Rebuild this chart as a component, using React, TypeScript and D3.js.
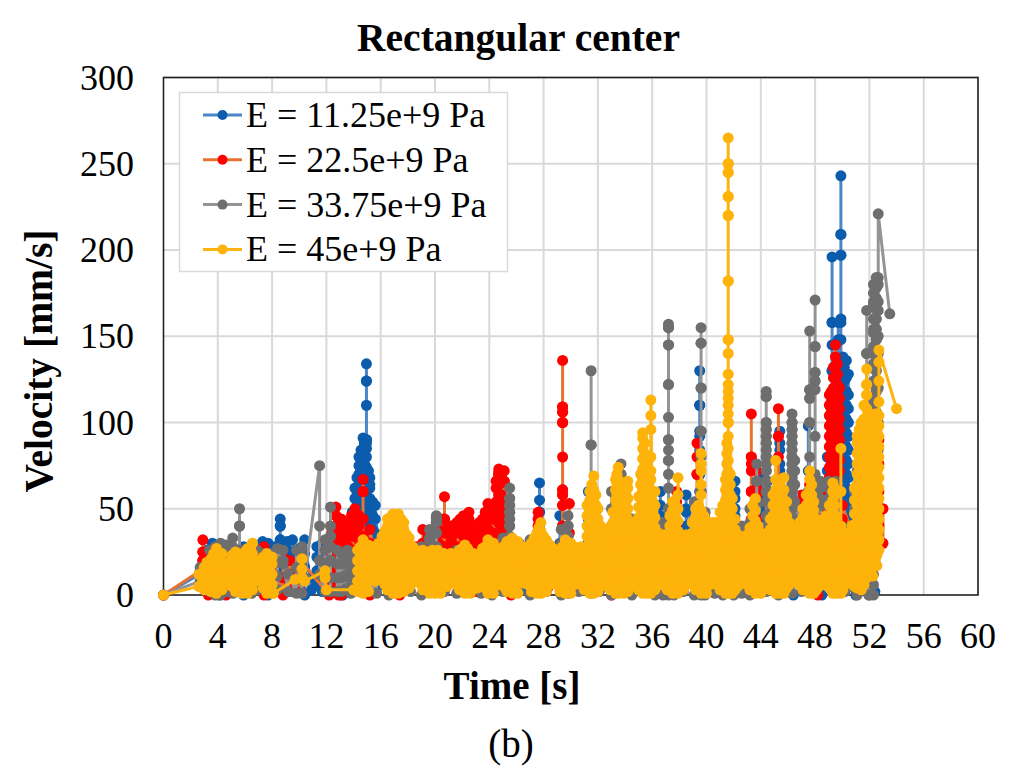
import React from "react";
import * as d3 from "d3";

type Col = [number, number[]];

const xTicks = [0,4,8,12,16,20,24,28,32,36,40,44,48,52,56,60];
const yTicks = [0,50,100,150,200,250,300];

const blueColumns: Col[] = [
[0,[0]],[2.7,[12]],[3.2,[4,12,20,26]],[3.6,[6,14,22,30]],[4.1,[0,8,16,24,29]],[4.6,[5,13,21,26]],[5.2,[2,10,18,24]],[5.9,[0,8,16,24,28]],[6.5,[3,11,19,26]],
[7.3,[2,10,18,26,31]],[7.7,[0,8,16,24,30]],[8.2,[6,14,22,28]],[8.6,[14,26,32,40,44,40,32,26,20,14]],[9.1,[4,12,20,26,31]],[9.5,[2,10,18,25,32]],[10,[4,12,20,27]],[10.4,[0,8,16,24,32]],[10.9,[3,10]],[11.3,[6,14,22,28]],
[11.7,[2,10,18,26,30]],[12.2,[4,12,20,27,33]],[12.6,[6,14,22,30]],[13.2,[0,8,14,22,30]],[13.5,[6,14,22,30,36]],[13.7,[4,12,20,28,36,42]],[13.9,[10,18,26,34,42,48]],[14.1,[8,16,24,32,40,48,56,62]],[14.25,[12,22,32,42,52,60,68]],[14.4,[10,20,30,40,50,58,64,70,75,80]],[14.55,[14,24,34,44,54,62,68,74,80,84]],
[14.7,[10,20,30,40,50,60,66,72,78,84,91]],[14.8,[16,26,36,46,56,64,70,76,82,88]],[14.95,[44,70,90,110,124,134,124,90,88,85,80,74,68,60,52,44]],[15.1,[14,24,34,44,54,64,72]],[15.2,[8,18,28,38,48,56,62,68,64]],[15.4,[14,26,38,46,54]],[15.6,[12,24,36,44,52]],[16,[6,14,24,30]],
[26.9,[2,8,16]],[27.7,[30,40,48,55,65,48,38,28]],[28.2,[16,22]],[29.2,[18,28,46,30]],[31.3,[18,30,40,60,44,30,4]],[33,[10,20,32]],[35.8,[12,24,40,58]],[36.6,[20,46,52,60,44]],
[38,[4,14,30,38]],[38.5,[20,30,40,50,58,48]],[39.5,[2,30,60,70,80,95,110,130,110,92,84,70]],[40,[10,20]],[41.7,[30,48,44]],[42.1,[60,66,56,50,46,40,30]],[42.4,[36,30]],[43,[34,38,30,14]],
[44.1,[44,58,70,50]],[44.5,[34,50,60,66,58]],[45.4,[20,40,60,72,84,95,88,76,50]],[45.8,[2,20,34]],[46.4,[0,14]],[47,[26,40]],[47.5,[30,50,72,98,60,32]],[48.5,[0,20,40]],[48.9,[30,50,66,72,80]],
[49.25,[60,90,110,130,158,196,158,145,130,112,100,86,70,58,46,32]],[49.7,[40,80,120,158,148,136,122,110]],[49.9,[96,120,160,197,209,243,209,197,158,148,136,122,110,96,84,70,56,40,25]],[50.05,[20,28,36,44,52,60,68,76,84,92,100,108,116,124,132,138]],[50.15,[132,124,116,108,100,92,84,76,68,60,52,44]],[50.3,[30,38,46,54,62,70,78,86,94,102,110,118,126,136]],[50.45,[128,116,108,100,92,84,76,68,60,52,44,36]],
[51,[0,12,24]],[52.4,[2,20]]
];

const redColumns: Col[] = [
[0,[0]],[2.7,[14]],[2.9,[6,14,20,25,32,25,20,14,6]],[3.3,[0,8,16]],[4.6,[0,10,22,27]],[5.2,[2,12,24]],[6.4,[2,12,22,27]],[7.4,[0,10,18,28]],[8.1,[2,12,20]],[8.8,[0,10,18,22]],[9.3,[4,12,20]],[10.1,[2,10,20]],
[12.2,[0,6]],[12.4,[14,22,30,36]],[12.7,[8,18,26,34,40,46,51,46,40,34,26,18,8]],[12.9,[0,6,14,22,30,36,44]],[13.1,[0,10,22,32,40,44]],[13.35,[6,16,26,34,40,42]],[13.6,[4,14,26,34,40,36,28]],[13.85,[14,24,34,42,46]],[14.1,[10,22,34,42,50,38,26]],[14.4,[12,22,32,40,46]],[14.7,[12,24,34,44,60,67,60,44,34,24,12]],[15.2,[0,14,30,38]],[15.8,[14,22,30]],[16.6,[2,12,22]],[17.4,[0,10,22]],
[18,[4,14]],[18.6,[12,22,28]],[19.1,[16,24,30,38,30,24,16]],[19.5,[14,22,30,34]],[19.7,[20,30,36]],[19.9,[16,26,34,38]],[20.1,[14,24,34,42,45]],[20.25,[20,30,38,44]],[20.4,[26,36,44]],[20.7,[28,36,44,57,44,36,28]],[20.95,[18,28,38,40]],[21.2,[10,22,32,40,38]],[21.4,[16,26,36,40]],[21.6,[16,28,38,42,36]],[21.85,[18,28,38,44]],[22.1,[12,24,34,42,46,40]],[22.3,[18,28,38,46]],[22.5,[22,32,40,48,44,36]],[22.75,[14,24,34,40]],[23,[2,16,28,36,30]],[23.25,[18,28,36,42]],[23.5,[14,24,34,40,44,38]],
[23.7,[20,30,40,48]],[23.9,[16,28,38,46,53,46,38]],[24.1,[22,34,44,50]],[24.3,[20,32,44,52,46,36]],[24.5,[26,36,46,54,62,66]],[24.7,[24,34,42,50,58,64,69,71,73,71,69,64,58,50,42,34,24]],[24.9,[28,38,48,58,66,70]],[25.1,[14,26,36,44,54,66,72,66,54,44,36,26,14]],[25.6,[0,14,30]],[26.2,[12,24]],[27.2,[20,30]],[27.6,[20,30,40,44,48,44,40,30,20]],[28.3,[4,14,24,27]],[28.8,[14,24,27]],
[29.4,[26,40,52,58,61,80,100,106,109,136,109,106,100,61,58,52,40,26]],[29.9,[30,53,36,20]],[30.8,[6,16]],[31.2,[4,14]],[33,[0,8,20]],[36,[14,30]],[37.2,[10,30]],[37.8,[20,40,54,60,42]],[39.3,[20,44,70,80,88,70,50,40]],[39.9,[30,44,24]],[40.6,[20,36]],
[43.3,[40,60,72,80,105,80,76,60,44,32]],[43.7,[40,58,72,62,44,26]],[44.6,[24,40,52]],[45.3,[60,80,92,108,92,66,50,32]],[45.7,[30,48]],[47,[30,44,52,58,48,34]],[47.6,[10,30,50,64,44]],[48.2,[0,14,30,40,52]],[48.6,[46,58,62,40]],
[49.05,[40,56,62,68,74,80,86,92,98,104,110,116]],[49.2,[118,112,106,100,94,88,82,76,70,64,58,52]],[49.35,[60,66,72,78,84,90,96,102,108,114,120,126,132]],[49.5,[145,138,132,126,120,114,108,102,96,90,84,78,72,66]],[49.65,[62,68,74,80,86,92,98,104,110,116,122,128,134]],[49.8,[120,114,108,102,96,90,84,78,72]],[50,[30,44,52]],[51.5,[20,34]],[52.7,[40,60,76,90]],[53,[30,50]]
];

const grayColumns: Col[] = [
[0,[0]],[2.7,[8,16]],[3.4,[2,10,18,26]],[3.8,[0,8,16,24,28]],[4.2,[0,8,16,24,30]],[4.6,[2,10,18,24,29]],[5.1,[1,9,17,25,33,28]],[5.6,[18,26,40,50,40,26,18,10,2]],[6,[2,10,18,26]],[6.5,[1,9,17,24]],[6.9,[3,11,19,26]],
[7.3,[9,17,24]],[7.9,[1,9,17,24]],[8.4,[3,11,19,27]],[8.8,[20,26,18]],[9.2,[2,12]],[9.8,[1,9,16,26]],[10.2,[1,9,17,24,28]],[10.4,[10]],[11.5,[75,40,20,12]],[11.9,[2,10,18,26,32]],[12.3,[20,34,51,40,34,28,20,10,2]],[12.8,[2,10,18,26]],[13.1,[2,10,18,24]],[13.3,[3,11,18,24]],[13.55,[4,12,20,26]],[13.8,[1,9,17,22]],
[14.4,[2,14,22]],[15.7,[1,10]],[16.6,[0,8]],[17.6,[2,12,24,30,35,27]],[18.2,[2,14,24]],[19,[0,10,20,28]],[19.6,[20,32,38,33,26]],[20.1,[16,28,36,42,44,46,44,42,36,28,16]],[20.7,[2,12,24]],[21.6,[1,14,26]],[22.6,[2,12,24]],[23.4,[1,12,24]],[24.2,[0,10,22]],
[25,[2,12,24,33]],[25.5,[24,34,40,44,48,52,56,62,56,52,48,44,40,34,24,12,2]],[26.2,[2,14,24,30]],[27,[0,10,24,32]],[28.2,[2,14,26,31]],[29.3,[0,10,22,30,38]],[29.8,[14,26,34,40,46,40,34,26,14,1]],[30.6,[2,14,20]],[31.5,[14,28,60,87,130,87,60,50,40,28,14,1]],[32.1,[2,18,30]],
[33,[0,14,28,40,50,60]],[33.7,[24,40,52,64,70,76,70,64,52,40,24,8]],[34.5,[0,16,30,44]],[35.3,[2,20,40,52]],[36.2,[0,14,28,36]],[36.8,[0,14,28,36,42]],[37.2,[28,50,78,90,122,145,155,157,155,145,122,103,90,84,78,70,62,50,40,28,12,0]],[37.6,[0,16,32,44]],[38.3,[2,18,30]],[39.1,[0,16,30,44,54]],
[39.6,[30,60,95,120,146,155,146,120,95,80,60,44,30,14,0]],[39.9,[0,14,30,48]],[40.6,[1,14,28]],[41.2,[0,14,30]],[42,[0,14,30]],[42.6,[1,16,30,40]],[43.2,[0,14,28,42,50]],[43.7,[40,52,66,76,66,52,40,24]],[44.4,[18,30,40,46,54,60,66,72,76,80,84,88,92,96,100,115,118,115,100,96,92,88,84,80,76,72,66,60,54,46,40,30,18,2]],[44.7,[20,36,48,60]],[45.3,[0,14,28,40]],
[46.3,[16,28,36,44,50,56,60,64,68,72,76,80,84,88,92,96,100,105,100,96,92,88,84,80,76,72,68,64,60,56,50,44,36,28,16,1]],[46.5,[30,44,54,64,72,78]],[47,[2,16,30]],[47.6,[12,28,40,50,60,80,100,114,119,153,119,114,100,60,50,40,28,12]],[48,[40,56,70,92,124,129,144,171,144,129,124,119,60,50,40,30,14,2]],[48.4,[30,40,52,62,66,56,44]],[49,[30,40,52,62,66,56,44]],[49.5,[40,52,60,66]],[50.2,[2,14,28]],[50.9,[4,20,36,50,60]],[51.1,[0,10,24,40,56,64,72]],
[51.8,[24,52,70,100,140,165,140,100,80,70,60,52,44,36,24,8]],[51.95,[0,14,30,50,70,90]],[52,[0,14,30,50,70,90,108]],[52.3,[0,6,12,22,34,52,70,86,100,112,124,134,144,152,160,168,175,180,170,154,140,122,104,86,70,52,34,22]],[52.5,[100,106,112,118,124,130,136,142,148,154,160,166,172,178,184,178,172,166,160,154,148,142,136,130,124,118,112,106,100]],[52.65,[84,100,120,140,150,165,170,180,184,221]],[53.5,[163]]
];

const yellowColumns: Col[] = [
[0,[0]],[2.6,[5,12]],[3,[3,10,16]],[3.5,[2,9,15,21]],[3.9,[1,8,14,20,27]],[4.3,[3,10,18,24]],[4.8,[8,14,19]],[5.3,[2,9,15,21,25]],[5.8,[1,7,13,20,23]],[6.2,[1,8,15,22,27]],[6.55,[3,10,17,24,30]],[7.1,[10,16]],[7.6,[1,7,13,19,24]],[8,[1,6,12,18,22]],[8.1,[1]],[9.7,[9]],[10.2,[10,15,21]],[10.4,[8]],[11.9,[14,10]],[12,[3]],[14,[3]],
[14.3,[2,8,14,20,26]],[14.7,[1,7,13,19,25,32]],[15.1,[2,8,14,20,26,29]],[15.6,[8,14,20,26]],[16.1,[9,15,21,27,34]],[16.5,[3,9,15,21,27,33,40,44]],[16.9,[1,7,13,19,25,31,37,43,47]],[17.3,[1,7,13,19,25,31,37,43,47]],[17.7,[2,8,14,20,26,32,38,42]],[18.1,[4,10,16,22,28,33]],[18.6,[10,16,22,26]],
[19.1,[3,9,15,21,26]],[19.6,[1,7,13,19,25]],[20,[1,7,13,19,25]],[20.4,[1,7,13,19,24]],[20.9,[5,11,17,22]],[21.4,[10,16,22]],[21.8,[3,9,15,21,26]],[22.2,[1,7,13,19,25,29]],[22.6,[1,7,13,19,24]],[23.1,[4,10,16,22]],[23.5,[9,15,21,27]],[23.9,[1,7,13,19,25,32]],[24.3,[1,7,13,19,25,30]],[24.8,[8,14,20,25]],
[25.3,[2,8,14,20,26,31]],[25.7,[1,7,13,19,25,33]],[26.1,[1,7,13,19,25,31]],[26.6,[9,15,21,26]],[27.1,[2,8,14,20,26,30]],[27.5,[1,7,13,19,25,31,36]],[27.8,[1,7,13,19,25,31,37,42]],[28.2,[2,8,14,20,27,32]],[28.7,[9,15,21,27]],[29.2,[2,8,14,20,26]],[29.6,[1,7,13,19,25,32]],[30,[1,7,13,19,25,30]],[30.5,[8,14,20,26]],
[31,[3,9,15,21,25]],[31.4,[1,7,13,19,25,31,37,43,49,55,60]],[31.7,[1,7,13,19,25,31,37,43,49,55,61,69]],[32,[2,8,14,20,26,32,38,44,50]],[32.4,[8,14,20,26,32]],[32.9,[3,9,15,21,27,33,39]],[33.3,[1,7,13,19,25,31,37,43,49,55,61,67]],[33.5,[1,7,13,19,25,31,37,43,49,55,61,67,74]],[33.9,[1,7,13,19,25,31,37,43,49,55,60]],[34.2,[2,8,14,20,26,32,38,44,50,56,66,62]],[34.6,[8,14,20,26,32]],
[35,[3,9,15,21,27,33,39,45,51,57]],[35.3,[1,7,13,19,25,31,37,43,49,55,61,67,73,79,85,91,94]],[35.6,[1,7,13,19,25,31,37,43,49,55,61,67,73,76]],[35.9,[1,7,13,19,25,31,37,43,49,55,61,67,72,80,96,104,113]],[36.2,[3,9,15,21,27,33,39,45,52,60]],[36.7,[9,15,21,27,33]],[37.1,[3,9,15,21,27,33]],
[37.5,[1,7,13,19,25,31,37,43,49,54]],[37.9,[1,7,13,19,25,31,37,43,50,58,68]],[38.3,[3,9,15,21,27,33]],[38.7,[9,15,21,27,33]],[39.2,[3,9,15,21,27,33,39,45,50]],[39.6,[1,7,13,19,25,31,37,43,49,58,64,72,76,82]],[40,[1,7,13,19,25,31,37,43]],[40.5,[9,15,21,27,33,39,42]],[41,[3,9,15,21,27,33,39,48]],
[41.4,[1,7,13,19,25,31,37,43,49,55,61,67]],[41.6,[60,100,148,182,220,231,245,250,265,250,245,231,220,182,148,140,128,122,118,114,110,105,100,92,85,78,72,66,60,54,48,42,36,30,24,18,12,6,1]],[41.9,[1,7,13,19,25,31,37,43,50,56]],[42.3,[5,11,17,23,29,35]],[42.8,[10,16,22,28,33]],[43.2,[3,9,15,21,27,33,39]],[43.6,[1,7,13,19,25,31,37,43,49,56]],[44,[1,7,13,19,25,31,36]],[44.4,[8,14,20,26,32]],
[44.7,[3,9,15,21,27,33,38,44]],[45.1,[1,7,13,19,25,31,37,43,49,55,61,67,78]],[45.4,[1,7,13,19,25,31,37,43,49,55,60]],[45.7,[1,7,13,19,25,31,37,43,49,55,61,68]],[46.1,[6,12,18,24,30,36,42]],[46.6,[10,16,22,28,34]],[47.1,[3,9,15,21,27,33,39,45,50]],[47.6,[1,7,13,19,25,31,37,43,49,55,61,67,72]],[47.9,[1,7,13,19,25,31,37,43,49,54]],
[48.3,[5,11,17,23,29,35,41]],[48.8,[8,14,20,26,32,38,46]],[49.3,[1,7,13,19,25,31,37,43,49,55,60,65]],[49.6,[1,7,13,19,25,31,37,42]],[49.9,[30,60,85,40,34,28,22,16,10,4,1]],[50.2,[6,12,18,24,30]],[50.7,[7,13,19,25,33,40]],[51.1,[4,10,16,22,28,34,40,46,52,58,64,70,76,82,88,92]],[51.4,[3,9,15,21,27,33,39,45,51,57,63,69,75,81,87,93,99,100]],
[51.8,[80,100,116,122,131,122,116,108,100,94,88,82,76,70,64,58,52,46,40,34,28,22,16,10]],[52.1,[14,20,26,32,38,44,50,56,62,68,74,80,86,92,98,104]],[52.4,[105,98,92,86,80,74,68,62,56,50,44,38,32,26,20]],[52.7,[26,32,38,44,50,56,62,68,74,80,86,92,98,104,112,124,135,142]],[54,[108]]
];

/* Second reading of the dense yellow band: the points lying between the columns above. */
const yellowInfill: Col[] = [
[3.2,[6,13,19]],[3.7,[5,12,18,24]],[4.1,[4,11,17,23]],[4.55,[6,12,18]],[5.05,[5,12,18,23]],[5.55,[4,10,17,22]],[6,[4,11,18,25]],[6.4,[6,13,20,27]],[6.8,[8,14,20]],[7.35,[4,10,16,22]],[7.8,[3,9,15,21]],
[14.5,[4,10,16,22,28]],[14.9,[4,10,16,22,28]],[15.35,[11,17,23,28]],[15.85,[12,18,24,30]],[16.3,[6,12,18,24,30,37]],[16.7,[4,10,16,22,28,34,40,45]],[17.1,[4,10,16,22,28,34,40,46]],[17.5,[4,10,16,22,28,34,40,44]],[17.9,[5,11,17,23,29,35]],[18.35,[7,13,19,25,28]],[18.85,[7,13,19,25]],
[19.35,[6,12,18,24]],[19.8,[4,10,16,22,26]],[20.2,[4,10,16,22,26]],[20.65,[8,14,20,24]],[21.15,[8,14,20,24]],[21.6,[6,12,18,24]],[22,[4,10,16,22,27]],[22.4,[4,10,16,22,27]],[22.85,[7,13,19,24]],[23.3,[7,12,18,24]],[23.7,[4,10,16,22,28]],[24.1,[4,10,16,22,28]],[24.55,[6,11,17,23,27]],
[25.05,[5,11,17,23,28]],[25.5,[4,10,16,22,28]],[25.9,[4,10,16,22,28]],[26.35,[7,12,18,24,28]],[26.85,[6,12,18,24,28]],[27.3,[4,10,16,22,28,33]],[27.65,[4,10,16,22,28,34,39]],[28,[4,10,16,22,28,34]],[28.45,[6,12,18,24,29]],[28.95,[6,12,18,24]],[29.4,[4,10,16,22,28]],[29.8,[4,10,16,22,28]],[30.25,[6,11,17,23,28]],
[30.75,[6,12,18,24,28]],[31.2,[4,10,16,22,28,34,40,46,52]],[31.55,[4,10,16,22,28,34,40,46,52,58,64]],[31.85,[4,10,16,22,28,34,40,46,52,58]],[32.2,[5,11,17,23,29,35,40]],[32.65,[6,12,18,24,30,35]],[33.1,[6,12,18,24,30,36,42,48]],[33.4,[4,10,16,22,28,34,40,46,52,58,64,70]],[33.7,[4,10,16,22,28,34,40,46,52,58,64]],[34.05,[5,11,17,23,29,35,41,47,53,59]],[34.4,[5,11,17,23,29,35,40]],
[34.8,[6,12,18,24,30,36,42]],[35.15,[4,10,16,22,28,34,40,46,52,58,64,70]],[35.45,[4,10,16,22,28,34,40,46,52,58,64,70,76,82,88]],[35.75,[4,10,16,22,28,34,40,46,52,58,64,70]],[36.05,[6,12,18,24,30,36,42,48,54]],[36.45,[6,12,18,24,30,36]],[36.9,[6,12,18,24,30,35]],
[37.3,[4,10,16,22,28,34,40,46]],[37.7,[4,10,16,22,28,34,40,46,52]],[38.1,[5,11,17,23,29,35]],[38.5,[6,12,18,24,30,35]],[38.95,[6,12,18,24,30,36,42]],[39.4,[4,10,16,22,28,34,40,46,52]],[39.8,[4,10,16,22,28,34,40,46]],[40.25,[6,12,18,24,30,36]],[40.75,[6,12,18,24,30,36,42]],
[41.2,[4,10,16,22,28,34,40,46,52]],[41.5,[4,10,16,22,28,34,40,46,52,58,64,70,76,82,88]],[41.75,[4,10,16,22,28,34,40,46,52,58,64,70]],[42.1,[3,8,14,20,26,32,38,44]],[42.55,[8,14,20,26,32]],[43,[6,12,18,24,30,35]],[43.4,[4,10,16,22,28,34,40,46,52]],[43.8,[4,10,16,22,28,34,40]],[44.2,[5,11,17,23,29,34]],
[44.55,[6,12,18,24,30,36]],[44.9,[4,10,16,22,28,34,40,46,52,58]],[45.25,[4,10,16,22,28,34,40,46,52,58,64]],[45.55,[4,10,16,22,28,34,40,46,52,58]],[45.9,[4,10,16,22,28,34,40,46,54]],[46.35,[8,14,20,26,32,38]],[46.85,[6,12,18,24,30,36,42]],[47.35,[4,10,16,22,28,34,40,46,52,58]],[47.75,[4,10,16,22,28,34,40,46,52,58,64]],
[48.1,[3,8,14,20,26,32,38,44]],[48.55,[7,13,19,25,31,37,42]],[49.05,[4,10,16,22,28,34,40,46,52]],[49.45,[4,10,16,22,28,34,40,46,52,58,62]],[49.75,[4,10,16,22,28,34,38]],[50.05,[3,9,15,21,27,33]],[50.45,[8,14,20,26,32,36]],[50.9,[5,11,17,23,29,35,41,47,55,62]],[51.25,[6,12,18,24,30,36,42,48,54,60,66,72,78,84,90,96]],
[51.6,[6,12,18,24,30,36,42,48,54,60,66,72,78,84,90,96,102,110]],[51.95,[11,17,23,29,35,41,47,53,59,65,71,77,83,89,95,100]],[52.25,[11,17,23,29,35,41,47,53,59,65,71,77,83,89,95,101]],[52.55,[17,23,29,35,41,47,53,59,65,71,77,83,89,95,101,105]]
];

const yellowAll: Col[] = d3.sort([...yellowColumns, ...yellowInfill], c => c[0]);

const seriesNames = ["E = 11.25e+9 Pa","E = 22.5e+9 Pa","E = 33.75e+9 Pa","E = 45e+9 Pa"];
const seriesColumns = [blueColumns, redColumns, grayColumns, yellowAll];
const lineColors = ["#4a86c8","#e8722f","#949494","#fdb40e"];
const dotColors = ["#0b5cad","#ff0000","#6e6e6e","#feb30a"];

const FONT = "'Liberation Serif', serif";

export default function App() {
  const x = d3.scaleLinear().domain([0, 60]).range([163.5, 978]);
  const y = d3.scaleLinear().domain([0, 300]).range([595, 77.5]);
  const line = d3.line<[number, number]>().x(d => x(d[0])).y(d => y(d[1]));

  const flat = seriesColumns.map(cols => {
    const pts: [number, number][] = [];
    cols.forEach(([t, vs]) => vs.forEach(v => pts.push([t, v])));
    return pts;
  });

  return (
    <svg width={1024} height={774} style={{ position: "absolute", left: 0, top: 0, background: "#fff" }} fontFamily={FONT}>
      <text x={518.5} y={51} textAnchor="middle" fontSize={39.5} fontWeight="bold">Rectangular center</text>

      {xTicks.slice(1).map(t => <line key={t} x1={x(t)} x2={x(t)} y1={y(0)} y2={y(300)} stroke="#d9d9d9" strokeWidth={2} />)}
      {yTicks.slice(1).map(t => <line key={t} x1={x(0)} x2={x(60)} y1={y(t)} y2={y(t)} stroke="#d9d9d9" strokeWidth={2} />)}
      <rect x={x(0)} y={y(300)} width={x(60) - x(0)} height={y(0) - y(300)} fill="none" stroke="#222" strokeWidth={1.6} />

      {flat.map((pts, i) => (
        <g key={i}>
          <path d={line(pts) ?? ""} fill="none" stroke={lineColors[i]} strokeWidth={3} strokeLinejoin="round" />
          {pts.map((p, j) => <circle key={j} cx={x(p[0])} cy={y(p[1])} r={5.5} fill={dotColors[i]} />)}
        </g>
      ))}

      {xTicks.map(t => <text key={t} x={x(t)} y={648} textAnchor="middle" fontSize={36}>{t}</text>)}
      {yTicks.map(t => <text key={t} x={134} y={y(t) + 12} textAnchor="end" fontSize={36}>{t}</text>)}

      <text x={512} y={699} textAnchor="middle" fontSize={39} fontWeight="bold">Time [s]</text>
      <text x={511} y={757} textAnchor="middle" fontSize={39}>(b)</text>
      <text transform="translate(52,361) rotate(-90)" textAnchor="middle" fontSize={39.5} fontWeight="bold">Velocity [mm/s]</text>

      <rect x={179.5} y={92.5} width={328} height={179} fill="#fff" stroke="#d9d9d9" strokeWidth={1.5} />
      {seriesNames.map((n, i) => {
        const ly = 115 + i * 44.8;
        return (
          <g key={n}>
            <line x1={203} x2={242} y1={ly} y2={ly} stroke={lineColors[i]} strokeWidth={3} />
            <circle cx={222.5} cy={ly} r={5} fill={dotColors[i]} />
            <text x={246} y={ly + 12} fontSize={36}>{n}</text>
          </g>
        );
      })}
    </svg>
  );
}
